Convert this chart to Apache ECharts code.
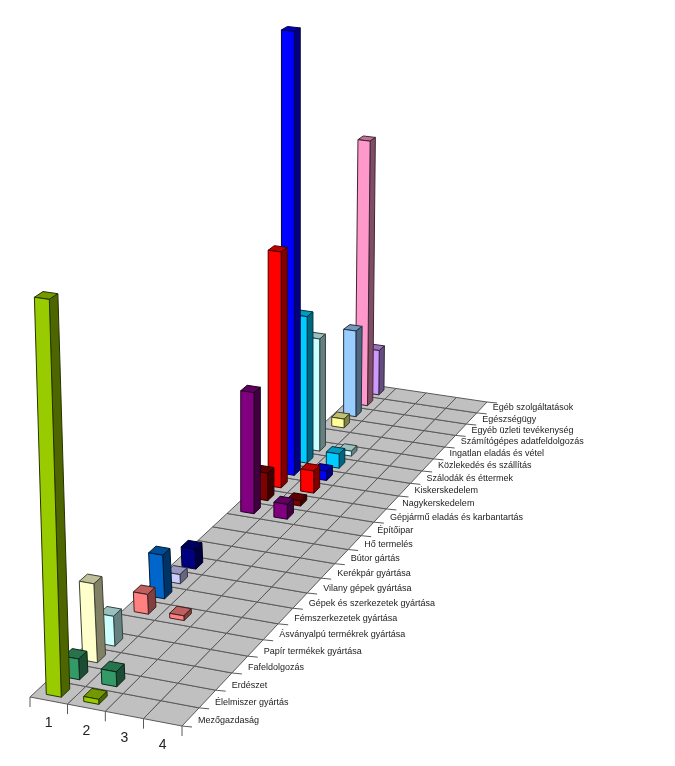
<!DOCTYPE html>
<html><head><meta charset="utf-8">
<script src="https://cdn.jsdelivr.net/npm/echarts@6/dist/echarts.min.js"></script>
<style>html,body{margin:0;padding:0;background:#fff}#c{width:675px;height:766px}</style>
</head><body><div id="c"></div>
<script>
const categories = ["Mezőgazdaság","Élelmiszer gyártás","Erdészet","Fafeldolgozás","Papír termékek gyártása","Ásványalpú termékrek gyártása","Fémszerkezetek gyártása","Gépek és szerkezetek gyártása","Vilany gépek gyártása","Kerékpár gyártása","Bútor gártás","Hő termelés","Építőipar","Gépjármű eladás és karbantartás","Nagykerskedelem","Kiskerskedelem","Szálodák és éttermek","Közlekedés és szállítás","Ingatlan eladás és vétel","Számítógépes adatfeldolgozás","Egyéb üzleti tevékenység","Egészségügy","Egéb szolgáltatások"];
const columns = ["1","2","3","4"];
const series1 = [398,21,81,31,0,21,47,10,22,0,0,0,140,32,279,531,177,137,0,11,108,337,57];
const series2 = [5,15,0,0,0,5,0,0,0,0,0,0,17,6,26,11,17,6,0,0,0,0,0];
const series3 = [0,0,0,0,0,0,0,0,0,0,0,0,0,0,0,0,0,0,0,0,0,0,0];
const series4 = [0,0,0,0,0,0,0,0,0,0,0,0,0,0,0,0,0,0,0,0,0,0,0];
const rowColors = ["#99CC00","#339966","#FFFFCC","#CCFFFF","#660066","#FF8080","#0066CC","#CCCCFF","#000080","#FF00FF","#FFFF00","#00FFFF","#800080","#800000","#FF0000","#0000FF","#00CCFF","#CCFFFF","#CCFFCC","#FFFF99","#99CCFF","#FF99CC","#CC99FF"];

const allSeries = [series1, series2, series3, series4];

// floor quad: front-left, front-right, back-right, back-left
const Q = [[30,697],[182,726],[487,402],[366,384]];
const sx=Q[0][0]-Q[1][0]+Q[2][0]-Q[3][0], sy=Q[0][1]-Q[1][1]+Q[2][1]-Q[3][1];
const dx1=Q[1][0]-Q[2][0], dx2=Q[3][0]-Q[2][0], dy1=Q[1][1]-Q[2][1], dy2=Q[3][1]-Q[2][1];
const det=dx1*dy2-dx2*dy1;
const G=(sx*dy2-dx2*sy)/det, H=(dx1*sy-sx*dy1)/det;
const A=Q[1][0]-Q[0][0]+G*Q[1][0], B=Q[3][0]-Q[0][0]+H*Q[3][0];
const D=Q[1][1]-Q[0][1]+G*Q[1][1], E=Q[3][1]-Q[0][1]+H*Q[3][1];
const GRID=400;

function leanAt(v){ return v<0.04?0.03 : v<0.45?0.045 : v<0.9?0.0 : -0.01; }
function proj(api,col,row,val){
  const c=api.coord([col,row]);
  const u=c[0]/GRID, v=1-c[1]/GRID;
  const w=G*u+H*v+1;
  let x=(A*u+B*v+Q[0][0])/w, y=(D*u+E*v+Q[0][1])/w;
  if(val){ const h=val/w; x-=leanAt(v)*h; y-=h; }
  return [x,y];
}
function shade(hex,f){
  const n=parseInt(hex.slice(1),16);
  const ch=s=>Math.round(((n>>s)&255)*f);
  return `rgb(${ch(16)},${ch(8)},${ch(0)})`;
}
const cells=[];
for(let c=0;c<columns.length;c++)for(let r=0;r<categories.length;r++)cells.push([c,r]);
const barData=[];
for(let r=categories.length-1;r>=0;r--)for(let c=0;c<allSeries.length;c++){
  if(allSeries[c][r]>0)barData.push([c,r,allSeries[c][r]]);
}
const lineStyle={stroke:'#5a5a5a',lineWidth:1,fill:null};
const labelFont='9px "Liberation Sans", Arial, sans-serif';

const option={
  animation:false,backgroundColor:'#fff',
  grid:{left:0,top:0,width:GRID,height:GRID,show:false},
  xAxis:{type:'value',min:0,max:4,show:false},
  yAxis:{type:'value',min:0,max:23,show:false},
  series:[
   {type:'custom',silent:true,clip:false,data:cells,encode:{x:0,y:1},
    renderItem(p,api){
      const c=api.value(0),r=api.value(1);
      const pts=[proj(api,c,r),proj(api,c+1,r),proj(api,c+1,r+1),proj(api,c,r+1)];
      return {type:'polygon',shape:{points:pts},style:{fill:'#C0C0C0',stroke:'#5a5a5a',lineWidth:1}};
    }},
   {type:'custom',silent:true,clip:false,data:categories.concat(['']).map((t,i)=>[4,i]),encode:{x:0,y:1},
    renderItem(p,api){
      const r=api.value(1);
      const e=proj(api,4,r), e2=[e[0]+10,e[1]+1];
      const kids=[{type:'line',shape:{x1:e[0],y1:e[1],x2:e2[0],y2:e2[1]},style:lineStyle}];
      if(r<categories.length)kids.push({type:'text',style:{text:categories[r],x:e[0]+16,y:e[1]-5,font:labelFont,fill:'#222',textAlign:'left',textVerticalAlign:'middle'}});
      return {type:'group',children:kids};
    }},
   {type:'custom',silent:true,clip:false,data:columns.concat(['']).map((t,i)=>[i,0]),encode:{x:0,y:1},
    renderItem(p,api){
      const c=api.value(0);
      const e=proj(api,c,0);
      const kids=[{type:'line',shape:{x1:e[0],y1:e[1],x2:e[0],y2:e[1]+10},style:lineStyle}];
      if(c<columns.length){
        const m=proj(api,c+0.5,0);
        kids.push({type:'text',style:{text:columns[c],x:m[0],y:m[1]+23,font:'14px "Liberation Sans", Arial, sans-serif',fill:'#222',textAlign:'center',textVerticalAlign:'middle'}});
      }
      return {type:'group',children:kids};
    }},
   {type:'custom',silent:true,clip:false,data:barData,encode:{x:0,y:1},
    renderItem(p,api){
      const c=api.value(0),r=api.value(1),val=api.value(2);
      const a=0.3,b=0.7,f=0.27,k=0.73;
      const col=rowColors[r];
      const fl=proj(api,c+a,r+f),fr=proj(api,c+b,r+f),br=proj(api,c+b,r+k);
      const tfl=proj(api,c+a,r+f,val),tfr=proj(api,c+b,r+f,val),tbr=proj(api,c+b,r+k,val),tbl=proj(api,c+a,r+k,val);
      const edge=shade(col,0.25);
      const st=fill=>({fill,stroke:edge,lineWidth:1});
      return {type:'group',children:[
        {type:'polygon',shape:{points:[tfl,tfr,tbr,tbl]},style:st(shade(col,0.75))},
        {type:'polygon',shape:{points:[fr,br,tbr,tfr]},style:st(shade(col,0.5))},
        {type:'polygon',shape:{points:[fl,fr,tfr,tfl]},style:st(col)}
      ]};
    }}
  ]
};
echarts.init(document.getElementById('c'),null,{renderer:'canvas'}).setOption(option);
</script></body></html>
